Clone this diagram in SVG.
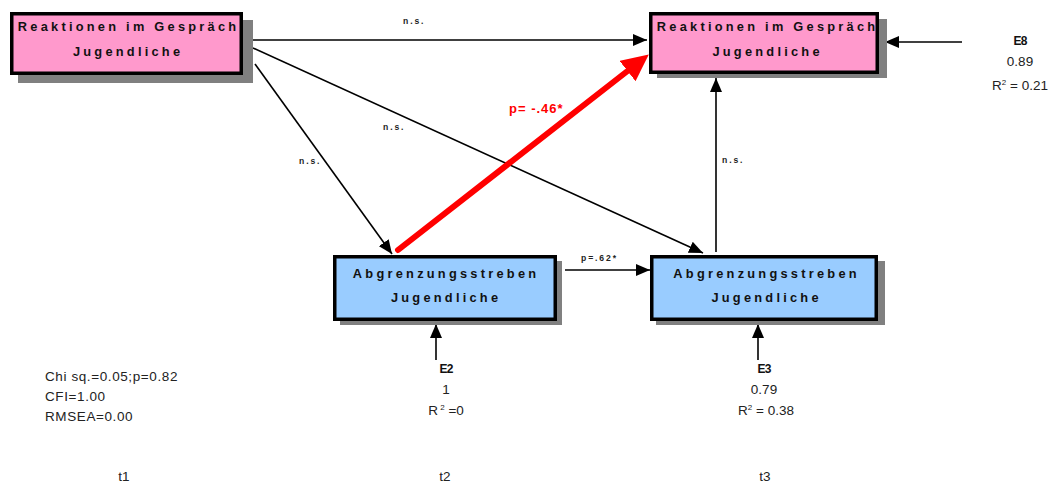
<svg xmlns="http://www.w3.org/2000/svg" width="1060" height="486" viewBox="0 0 1060 486">
<style>
.shadow{fill:#808080}
.pink{fill:#FF99CC;stroke:#000;stroke-width:3.5}
.blue{fill:#99CCFF;stroke:#000;stroke-width:3.5}
.bt{font-family:"Liberation Sans",Arial,sans-serif;font-weight:bold;font-size:12.8px;letter-spacing:3.25px;text-anchor:middle;fill:#111}
.ns{font-family:"Liberation Sans",Arial,sans-serif;font-weight:bold;font-size:8.6px;letter-spacing:1.9px;fill:#222}
.lbl{font-family:"Liberation Sans",Arial,sans-serif;font-size:13.5px;fill:#222}
.mid{text-anchor:middle}
.eb{font-family:"Liberation Sans",Arial,sans-serif;font-weight:bold;font-size:12px;letter-spacing:-0.8px;text-anchor:middle;fill:#111}
.ln{stroke:#000;stroke-width:1.6;fill:none;marker-end:url(#ah)}
</style>
<defs>
<marker id="ah" markerUnits="userSpaceOnUse" markerWidth="16" markerHeight="12" refX="14" refY="6" orient="auto"><path d="M0,0 L14,6 L0,12 z" fill="#000"/></marker>
<marker id="ahr" markerUnits="userSpaceOnUse" markerWidth="28" markerHeight="26" refX="0" refY="13" orient="auto"><path d="M0,0 L27,13 L0,26 z" fill="#FF0000"/></marker>
</defs>
<rect width="1060" height="486" fill="#fff"/>

<g id="connectors">
<line class="ln" x1="253" y1="40" x2="647" y2="40"/>
<line class="ln" x1="253" y1="48" x2="703" y2="253"/>
<line class="ln" x1="255" y1="64" x2="392" y2="254"/>
<line class="ln" x1="565" y1="270" x2="650" y2="270"/>
<line class="ln" x1="716" y1="252" x2="716" y2="78"/>
<line class="ln" x1="962" y1="42" x2="885" y2="42"/>
<line class="ln" x1="436" y1="360" x2="436" y2="324"/>
<line class="ln" x1="758" y1="360" x2="758" y2="324"/>
<line x1="398" y1="250" x2="627.5" y2="71" stroke="#FF0000" stroke-width="6" stroke-linecap="round" marker-end="url(#ahr)"/>
<text class="ns" x="403" y="24">n.s.</text>
<text class="ns" x="383" y="130">n.s.</text>
<text class="ns" x="299" y="164">n.s.</text>
<text class="ns" x="722" y="163">n.s.</text>
<text class="ns" x="581" y="261" letter-spacing="0.9">p=.62*</text>
<text x="509" y="113" font-family="Liberation Sans,Arial,sans-serif" font-weight="bold" font-size="13" letter-spacing="1" fill="#FF0000">p= -.46*</text>
</g>

<g id="node-reak-t1">
<rect class="shadow" x="18" y="20" width="235" height="63"/>
<rect class="pink" x="11.75" y="13.75" width="229.5" height="59.5"/>
<text class="bt" x="128.6" y="31">Reaktionen im Gespräch</text>
<text class="bt" x="128.1" y="56">Jugendliche</text>
</g>

<g id="node-reak-t3">
<rect class="shadow" x="657" y="19" width="230" height="59"/>
<rect class="pink" x="650.75" y="13.75" width="226.5" height="58.5"/>
<text class="bt" x="767.6" y="31">Reaktionen im Gespräch</text>
<text class="bt" x="767.6" y="56">Jugendliche</text>
</g>

<g id="node-abgr-t2">
<rect class="shadow" x="340" y="261" width="222" height="64"/>
<rect class="blue" x="334.75" y="256.75" width="220.5" height="62.5"/>
<text class="bt" x="446.1" y="278">Abgrenzungsstreben</text>
<text class="bt" x="446.1" y="302">Jugendliche</text>
</g>

<g id="node-abgr-t3">
<rect class="shadow" x="656" y="261" width="229" height="64"/>
<rect class="blue" x="651.75" y="256.75" width="224.5" height="62.5"/>
<text class="bt" x="766.6" y="278">Abgrenzungsstreben</text>
<text class="bt" x="766.6" y="302">Jugendliche</text>
</g>

<g id="node-e8">
<text class="eb" x="1020" y="45">E8</text>
<text class="lbl mid" x="1020" y="66">0.89</text>
<text class="lbl mid" x="1020" y="90">R<tspan font-size="8" dy="-5">2</tspan><tspan dy="5"> = 0.21</tspan></text>
</g>

<g id="node-e2">
<text class="eb" x="446" y="373">E2</text>
<text class="lbl mid" x="446" y="394">1</text>
<text class="lbl mid" x="446" y="415">R<tspan font-size="8" dy="-5"> 2</tspan><tspan dy="5"> =0</tspan></text>
</g>

<g id="node-e3">
<text class="eb" x="764" y="373">E3</text>
<text class="lbl mid" x="764" y="394">0.79</text>
<text class="lbl mid" x="766" y="415">R<tspan font-size="8" dy="-5">2</tspan><tspan dy="5"> = 0.38</tspan></text>
</g>

<g id="fit">
<text class="lbl" x="45" y="381" letter-spacing="0.6">Chi sq.=0.05;p=0.82</text>
<text class="lbl" x="45" y="401" letter-spacing="0.6">CFI=1.00</text>
<text class="lbl" x="45" y="421" letter-spacing="0.6">RMSEA=0.00</text>
</g>

<g id="time">
<text class="lbl mid" x="124" y="481">t1</text>
<text class="lbl mid" x="445" y="481">t2</text>
<text class="lbl mid" x="765" y="481">t3</text>
</g>
</svg>
